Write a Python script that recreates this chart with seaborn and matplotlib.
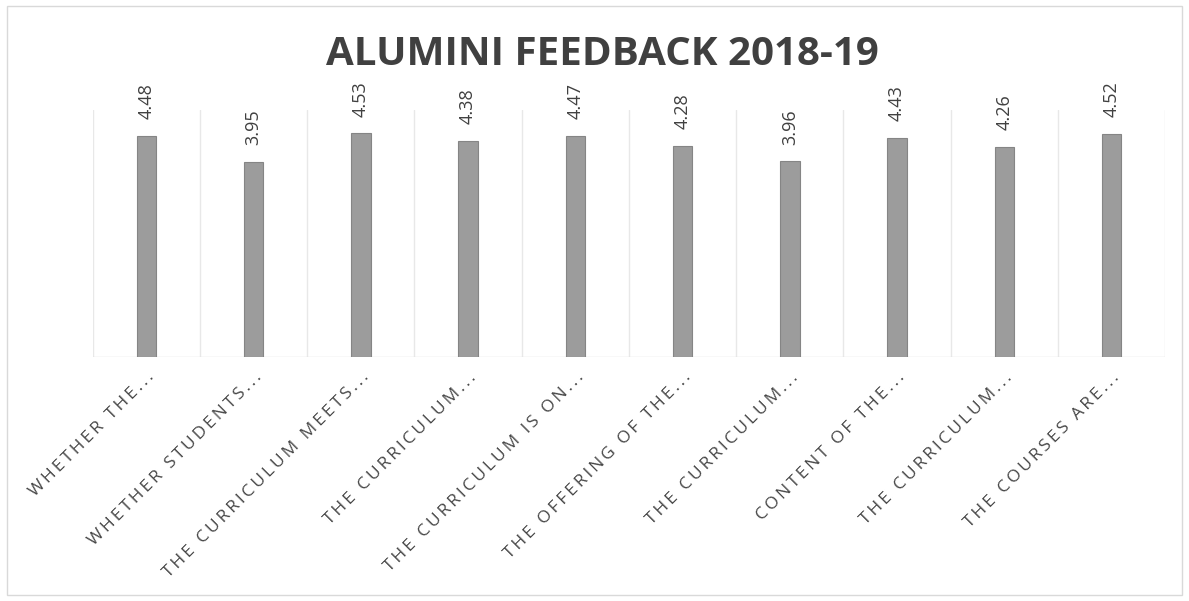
import numpy as np
import pandas as pd
import matplotlib
matplotlib.use("Agg")
import matplotlib.pyplot as plt
import seaborn as sns
from matplotlib.patches import Rectangle

questions = ["WHETHER THE...", "WHETHER STUDENTS...", "THE CURRICULUM MEETS...",
             "THE CURRICULUM...", "THE CURRICULUM IS ON...", "THE OFFERING OF THE...",
             "THE CURRICULUM...", "CONTENT OF THE...", "THE CURRICULUM...",
             "THE COURSES ARE..."]
scores = [4.48, 3.95, 4.53, 4.38, 4.47, 4.28, 3.96, 4.43, 4.26, 4.52]

df = pd.DataFrame({"idx": range(len(questions)), "score": scores})


def tracked(s):
    # wide letter spacing like the excel axis labels
    return "\u2009".join(s)


sns.set_style("white")
plt.rcParams['font.family'] = ['Open Sans', 'DejaVu Sans']

fig = plt.figure(figsize=(11.89, 6.01), dpi=100)
ax = fig.add_axes([0.078, 0.406, 0.902, 0.411])

sns.barplot(ax=ax, data=df, x="idx", y="score", color="#9c9c9c",
            width=0.18, edgecolor="#858585", linewidth=0.8, saturation=1)

ax.set_xlim(-0.5, len(questions) - 0.5)
ax.set_ylim(0, 5)

# vertical gridlines between categories
for b in np.arange(-0.5, len(questions), 1.0):
    ax.axvline(b, color="#e8e8e8", lw=1, zorder=0)
ax.axhline(0, color="#e0e0e0", lw=1, zorder=0)

for i, v in enumerate(scores):
    ax.annotate(f"{v:.2f}", (i, v), xytext=(0, 12), textcoords="offset points",
                rotation=90, ha="center", va="bottom", fontsize=13, color="#404040")

ax.set_xticks(range(len(questions)))
ax.set_xticklabels([tracked(q) for q in questions], rotation=45, ha="right",
                   rotation_mode="anchor", fontsize=12.5, color="#474747")
ax.tick_params(axis="x", length=0, pad=9)
ax.set_yticks([])
ax.set_xlabel("")
ax.set_ylabel("")
sns.despine(ax=ax, left=True, bottom=True)

fig.text(0.507, 0.91, "ALUMINI FEEDBACK 2018-19", ha="center", va="center",
         fontsize=29, fontweight="bold", color="#404040")

fig.patches.append(Rectangle((0.006, 0.01), 0.988, 0.98, transform=fig.transFigure,
                             fill=False, edgecolor="#d9d9d9", lw=1))

fig.savefig("out.png", dpi=100)
